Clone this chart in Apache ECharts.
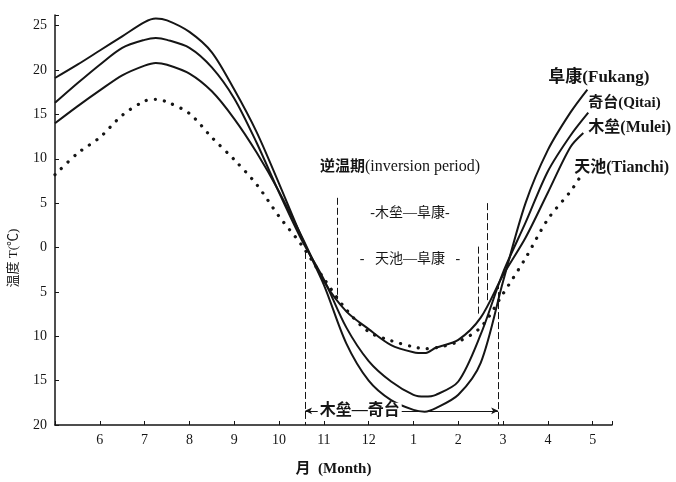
<!DOCTYPE html>
<html>
<head>
<meta charset="utf-8">
<title>温度年变化与逆温期</title>
<style>
  html, body { margin: 0; padding: 0; background: #fff; }
  #chart { width: 676px; height: 482px; }
</style>
</head>
<body>
<div id="chart"></div>
<script src="https://cdn.jsdelivr.net/npm/echarts@6/dist/echarts.min.js"></script>
<script>
// x = month, 5 = May ... 12 = Dec, 13 = Jan of next year ... 17 = May
var monthTicks = ['6', '7', '8', '9', '10', '11', '12', '1', '2', '3', '4', '5'];

var fukang = [[5, 19.1], [5.5, 20.6], [6, 22.2], [6.5, 23.8], [7, 25.4], [7.25, 25.8], [7.5, 25.6],
  [8, 24.3], [8.5, 22.0], [9, 17.8], [9.5, 13.0], [10, 7.2], [10.5, 1.2], [11, -4.2], [11.5, -10.8],
  [12, -15], [12.5, -17.2], [13, -18.3], [13.25, -18.5], [13.5, -18.1], [14, -16.6], [14.5, -13],
  [15, -3.8], [15.5, 5], [16, 11], [16.5, 15.2], [16.88, 17.8]];

var qitai = [[5, 16.3], [5.5, 18.5], [6, 20.6], [6.5, 22.5], [7, 23.4], [7.25, 23.6], [7.5, 23.4],
  [8, 22.5], [8.5, 20.3], [9, 16.8], [9.5, 11.8], [10, 6.2], [10.5, 0.9], [11, -3.6], [11.5, -9],
  [12, -12.8], [12.5, -15.1], [13, -16.6], [13.25, -16.8], [13.5, -16.6], [14, -15.1], [14.5, -9.8],
  [15, -2.8], [15.5, 2.8], [16, 8.6], [16.5, 12.6], [16.9, 15.2]];

var mulei = [[5, 14], [5.5, 15.9], [6, 17.7], [6.5, 19.4], [7, 20.5], [7.25, 20.8], [7.5, 20.6],
  [8, 19.6], [8.5, 17.6], [9, 14.5], [9.5, 10.7], [10, 6.3], [10.5, 1.3], [11, -3.8], [11.5, -7.2],
  [12, -9.2], [12.5, -11], [13, -11.8], [13.25, -11.9], [13.5, -11.3], [14, -10.4], [14.5, -7.9],
  [15, -3.1], [15.5, 1.1], [16, 6.2], [16.5, 11.3], [16.79, 12.9]];

var tianchi = [[5, 8.2], [5.5, 10.6], [6, 12.4], [6.5, 14.9], [7, 16.5], [7.25, 16.7], [7.5, 16.4],
  [8, 15.1], [8.5, 12.4], [9, 9.9], [9.5, 7.1], [10, 3.5], [10.5, 0.3], [11, -3.5], [11.5, -7],
  [12, -9.5], [12.5, -10.5], [13, -11.2], [13.25, -11.4], [13.5, -11.3], [14, -10.6], [14.5, -9],
  [15, -5.2], [15.5, -1.2], [16, 3.2], [16.5, 6.3], [16.7, 7.8]];

// inversion period boundaries (month) where the curves cross
var muleiQitai = [10.58, 14.89];
var muleiFukang = [11.29, 14.64];
var tianchiFukang = [11.29, 14.44];

var serif = "'Liberation Serif', 'Noto Sans CJK SC', serif";
var ink = '#151515';

var chart = echarts.init(document.getElementById('chart'));

function solid(name, data, offset, size) {
  return {
    name: name,
    type: 'line',
    data: data,
    smooth: 0.3,
    symbol: 'none',
    lineStyle: { color: ink, width: 2 },
    endLabel: {
      show: true,
      formatter: name,
      offset: offset,
      align: 'left',
      verticalAlign: 'middle',
      fontFamily: serif,
      fontSize: size,
      fontWeight: 'bold',
      color: ink
    }
  };
}

var fukangSeries = solid('阜康(Fukang)', fukang, [-47, -12], 17);
fukangSeries.markLine = {
  silent: true,
  symbol: 'none',
  label: { show: false },
  lineStyle: { color: ink, width: 1, type: [7, 3] },
  data: [
    [{ coord: [muleiQitai[0], -0.5] }, { coord: [muleiQitai[0], -20] }],
    [{ coord: [muleiFukang[0], 5.6] }, { coord: [muleiFukang[0], -5.8] }],
    [{ coord: [tianchiFukang[1], 0.1] }, { coord: [tianchiFukang[1], -7.5] }],
    [{ coord: [muleiFukang[1], 5] }, { coord: [muleiFukang[1], -6.2] }],
    [{ coord: [muleiQitai[1], -3.9] }, { coord: [muleiQitai[1], -20] }],
    [{ coord: [muleiQitai[0], -18.4], symbol: 'arrow', symbolSize: [5, 7], lineStyle: { type: 'solid' } },
     { coord: [muleiQitai[1], -18.4], symbol: 'arrow', symbolSize: [5, 7] }]
  ]
};
fukangSeries.markPoint = {
  silent: true,
  symbol: 'circle',
  symbolSize: 0,
  label: { show: true, position: 'inside', fontFamily: serif, color: ink },
  data: [
    { coord: [12.7, 9.1], label: {
        formatter: '{a|逆温期}{b|(inversion period)}',
        rich: {
          a: { fontFamily: serif, fontSize: 15, fontWeight: 'bold', color: ink },
          b: { fontFamily: serif, fontSize: 16, color: ink }
        } } },
    { coord: [12.92, 3.9], label: { formatter: '-木垒—阜康-', fontSize: 14 } },
    { coord: [12.92, -1.35], label: { formatter: '-   天池—阜康   -', fontSize: 14 } },
    { coord: [11.8, -18.4], label: { formatter: '木垒—奇台', fontSize: 16, fontWeight: 'bold',
        backgroundColor: '#fff', padding: [0, 2] } }
  ]
};

var option = {
  animation: false,
  backgroundColor: '#fff',
  grid: { left: 55, right: 64, top: 15, bottom: 55 },
  xAxis: {
    type: 'value',
    min: 5,
    max: 17.43,
    interval: 1,
    name: '月  (Month)',
    nameLocation: 'middle',
    nameGap: 37,
    nameTextStyle: { fontFamily: serif, fontSize: 15, fontWeight: 'bold', color: ink },
    axisLine: { onZero: false, lineStyle: { color: ink, width: 1.5 } },
    axisTick: { inside: true, length: 4, lineStyle: { color: ink } },
    axisLabel: {
      fontFamily: serif, fontSize: 14, color: ink, margin: 8,
      formatter: function (v) {
        var i = Math.round(v) - 6;
        if (Math.abs(v - Math.round(v)) > 1e-6 || i < 0 || i >= monthTicks.length) return '';
        return monthTicks[i];
      }
    },
    splitLine: { show: false }
  },
  yAxis: {
    type: 'value',
    min: -20,
    max: 26.2,
    interval: 5,
    axisLine: { show: true, onZero: false, lineStyle: { color: ink, width: 1.5 } },
    axisTick: { show: true, inside: true, length: 4, lineStyle: { color: ink } },
    axisLabel: {
      fontFamily: serif, fontSize: 14, color: ink, margin: 8,
      formatter: function (v) {
        if (v > 25 || v % 5 !== 0) return '';
        return String(Math.abs(v));
      }
    },
    splitLine: { show: false }
  },
  graphic: [{
    type: 'text',
    x: 14,
    y: 258,
    rotation: Math.PI / 2,
    style: {
      text: '温度 T(℃)',
      fontFamily: serif,
      fontSize: 13,
      fill: ink,
      align: 'center',
      verticalAlign: 'middle'
    }
  }],
  series: [
    fukangSeries,
    solid('奇台(Qitai)', qitai, [-8, -9], 15),
    solid('木垒(Mulei)', mulei, [-3, -5], 16),
    {
      name: '天池(Tianchi)',
      type: 'line',
      data: tianchi,
      smooth: 0.3,
      symbol: 'none',
      lineStyle: { color: ink, width: 3.2, type: [0.1, 9], cap: 'round' },
      endLabel: {
        show: true,
        formatter: '天池(Tianchi)',
        offset: [-13, -10],
        align: 'left',
        verticalAlign: 'middle',
        fontFamily: serif,
        fontSize: 16,
        fontWeight: 'bold',
        color: ink
      }
    }
  ]
};

chart.setOption(option);
</script>
</body>
</html>
